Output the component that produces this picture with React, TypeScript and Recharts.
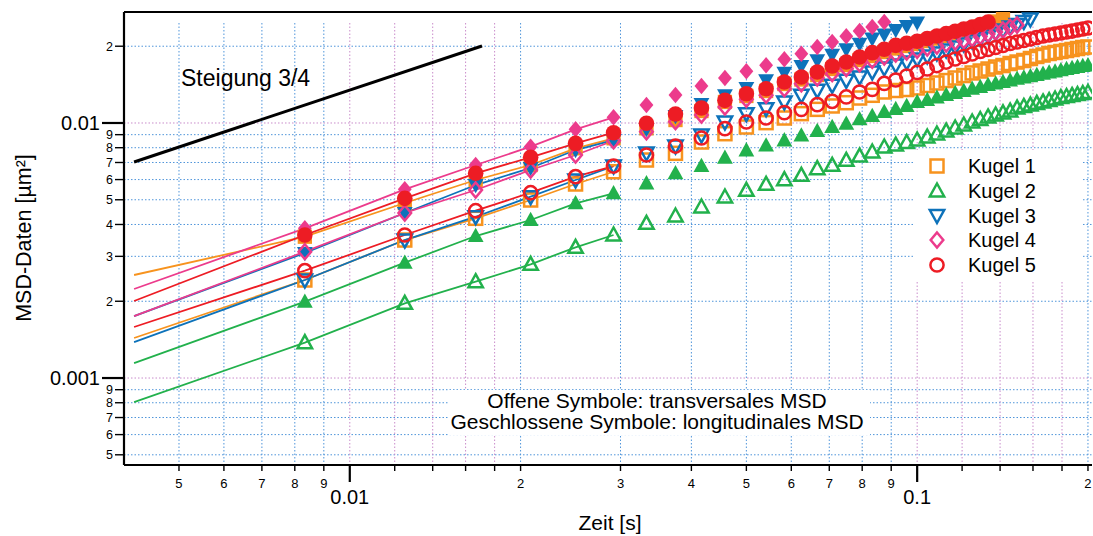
import {
  CartesianGrid,
  ComposedChart,
  ReferenceLine,
  Scatter,
  XAxis,
  YAxis,
} from 'recharts';

// Zeitpunkte (s), Bildabstand 1/240 s
const frameTimes = [
  0.004167, 0.008333, 0.0125, 0.016667, 0.020833, 0.025, 0.029167, 0.033333,
  0.0375, 0.041667, 0.045833, 0.05, 0.054167, 0.058333, 0.0625, 0.066667,
  0.070833, 0.075, 0.079167, 0.083333, 0.0875, 0.091667, 0.095833, 0.1,
  0.104167, 0.108333, 0.1125, 0.116667, 0.120833, 0.125, 0.129167, 0.133333,
  0.1375, 0.141667, 0.145833, 0.15, 0.154167, 0.158333, 0.1625, 0.166667,
  0.170833, 0.175, 0.179167, 0.183333, 0.1875, 0.191667, 0.195833, 0.2,
];

// MSD values in 1e-3 µm²; "Long" = geschlossen (longitudinal), "Trans" = offen
const kugel1Long = [
  2.535, 3.582, 4.856, 5.977, 6.843, 7.958, 8.71, 9.53, 10.27, 11.14, 12.09,
  12.76, 13.35, 14.22, 14.81, 15.42, 16.28, 16.88, 17.66, 18.31, 18.98, 19.59,
  20.04, 20.41, 20.96, 21.44, 21.93, 22.43, 22.94, 23.36, 23.9, 24.44, 25.0,
  25.57,
];
const kugel1Trans = [
  1.435, 2.423, 3.476, 4.229, 4.989, 5.765, 6.44, 7.159, 7.604, 8.422, 9.078,
  9.645, 10.03, 10.46, 10.88, 11.31, 11.66, 12.01, 12.53, 12.84, 13.23, 13.41,
  13.53, 13.72, 14.03, 14.35, 14.67, 15.01, 15.35, 15.71, 15.99, 16.28, 16.58,
  16.8, 17.11, 17.34, 17.58, 17.9, 18.23, 18.47, 18.73, 18.9, 19.07, 19.24,
  19.42, 19.59, 19.77, 19.86,
];
const kugel2Long = [
  1.145, 1.992, 2.833, 3.604, 4.165, 4.842, 5.3, 5.8, 6.35, 6.78, 7.31, 7.81,
  8.17, 8.55, 8.94, 9.3, 9.645, 9.94, 10.34, 10.65, 11.04, 11.35, 11.66, 12.09,
  12.31, 12.59, 12.87, 13.11, 13.35, 13.63, 13.84, 14.09, 14.29, 14.48, 14.67,
  14.92, 15.08, 15.25, 15.42, 15.61, 15.78, 15.92, 16.09, 16.28, 16.43, 16.58,
  16.73, 16.83,
];
const kugel2Trans = [
  0.805, 1.376, 1.963, 2.386, 2.792, 3.255, 3.637, 4.042, 4.318, 4.684, 5.126,
  5.443, 5.748, 5.993, 6.234, 6.619, 6.822, 7.137, 7.421, 7.696, 8.05, 8.197,
  8.385, 8.576, 8.81, 9.054, 9.3, 9.559, 9.82, 10.09, 10.32, 10.56, 10.75,
  10.95, 11.14, 11.45, 11.61, 11.76, 11.93, 12.09, 12.25, 12.42, 12.59, 12.7,
  12.82, 12.93, 13.05, 13.17,
];
const kugel3Long = [
  1.75, 3.092, 4.437, 5.712, 6.661, 7.835, 8.576, 9.473, 10.65, 11.87, 12.84,
  13.72, 14.7, 15.75, 16.73, 17.61, 18.53, 19.45, 20.46, 21.41, 22.23, 23.15,
  24.0, 24.78,
];
const kugel3Trans = [
  1.384, 2.423, 3.476, 4.29, 5.14, 5.977, 6.78, 7.627, 8.122, 8.97, 10.09,
  10.88, 11.38, 12.09, 12.84, 13.43, 14.05, 14.7, 15.15, 15.85, 16.43, 16.88,
  17.34, 17.82, 18.31, 18.81, 19.33, 19.86, 20.41, 20.96, 21.44, 21.93, 22.54,
  23.15, 23.79, 24.33, 25.0, 25.57,
];
const kugel4Long = [
  2.234, 3.864, 5.494, 6.843, 8.073, 9.445, 10.53, 11.76, 12.87, 13.96, 15.01,
  15.95, 16.83, 17.77, 18.69, 19.86, 20.78, 21.88, 22.94, 23.79, 24.89,
];
const kugel4Trans = [
  1.75, 3.129, 4.437, 5.46, 6.541, 7.49, 8.52, 9.245, 10.12, 10.75, 11.55,
  12.38, 12.84, 13.63, 14.26, 15.01, 15.61, 16.33, 17.08, 17.61, 18.15, 18.64,
  18.98, 19.27, 19.68, 20.04, 20.41, 20.78, 21.06, 21.41, 21.84, 22.33, 22.74,
  23.15, 23.68, 24.22,
];
const kugel5Long = [
  2.004, 3.637, 5.065, 6.35, 7.336, 8.32, 9.16, 9.97, 10.85, 11.45, 12.27,
  13.03, 13.63, 14.48, 15.15, 15.85, 16.73, 17.34, 18.15, 18.87, 19.45, 20.16,
  20.53, 20.91, 21.44, 21.93, 22.43, 22.89, 23.36, 23.79, 24.33, 24.89,
];
const kugel5Trans = [
  1.585, 2.636, 3.637, 4.53, 5.33, 6.159, 6.78, 7.49, 8.122, 8.733, 9.5, 10.09,
  10.46, 10.98, 11.31, 11.8, 12.16, 12.65, 13.23, 13.55, 14.29, 14.74, 15.28,
  15.78, 16.28, 16.8, 17.34, 17.82, 18.23, 18.64, 19.07, 19.42, 19.77, 20.13,
  20.5, 20.78, 21.06, 21.35, 21.64, 21.93, 22.13, 22.33, 22.54, 22.74, 22.94,
  23.15, 23.36, 23.58,
];

// Steigung-3/4-Gerade
const slopeTimes = [0.004167, 0.0171];
const slopeValues = [7.03, 20.04];

const xTickValues = [
  0.005, 0.006, 0.007, 0.008, 0.009, 0.01, 0.012, 0.014, 0.016, 0.018, 0.02,
  0.03, 0.04, 0.05, 0.06, 0.07, 0.08, 0.09, 0.1, 0.12, 0.14, 0.16, 0.18, 0.2,
];
const xTickLabels = [
  '5', '6', '7', '8', '9', '0.01', '', '', '', '', '2', '3', '4', '5', '6',
  '7', '8', '9', '0.1', '', '', '', '', '2',
];
const yTickValues = [
  0.0005, 0.0006, 0.0007, 0.0008, 0.0009, 0.001, 0.002, 0.003, 0.004, 0.005,
  0.006, 0.007, 0.008, 0.009, 0.01, 0.02,
];
const yTickLabels = [
  '5', '6', '7', '8', '9', '0.001', '2', '3', '4', '5', '6', '7', '8', '9',
  '0.01', '2',
];
const majorTicks = [0.001, 0.01, 0.1];

const gridBlueX = [
  0.005, 0.006, 0.007, 0.008, 0.009, 0.02, 0.03, 0.04, 0.05, 0.06, 0.07, 0.08,
  0.09, 0.2,
];
const gridPinkX = [0.01, 0.012, 0.014, 0.016, 0.018, 0.1, 0.12, 0.14, 0.16, 0.18];
const gridBlueY = [
  0.0005, 0.0006, 0.0007, 0.0008, 0.0009, 0.002, 0.003, 0.004, 0.005, 0.006,
  0.007, 0.008, 0.009, 0.02,
];
const gridPinkY = [0.001, 0.01];

const xDomain = [0.004, 0.2033];
const yDomain = [0.000456, 0.02724];

const FONT = '"Liberation Sans", Arial, Helvetica, sans-serif';
const ORANGE = '#f7931e';
const GREEN = '#22b14c';
const BLUE = '#0d72ba';
const PINK = '#ec3b8c';
const RED = '#ed1c24';

type ShapeKind = 'square' | 'up' | 'down' | 'diamond' | 'circle';

const series = [
  { name: 'Kugel 1', long: kugel1Long, trans: kugel1Trans, color: ORANGE, kind: 'square' as ShapeKind },
  { name: 'Kugel 2', long: kugel2Long, trans: kugel2Trans, color: GREEN, kind: 'up' as ShapeKind },
  { name: 'Kugel 3', long: kugel3Long, trans: kugel3Trans, color: BLUE, kind: 'down' as ShapeKind },
  { name: 'Kugel 4', long: kugel4Long, trans: kugel4Trans, color: PINK, kind: 'diamond' as ShapeKind },
  { name: 'Kugel 5', long: kugel5Long, trans: kugel5Trans, color: RED, kind: 'circle' as ShapeKind },
];

const toPoints = (vals: number[]) =>
  vals.map((v, i) => ({ t: frameTimes[i], v: v / 1000 }));

const Marker = ({ cx, cy, kind, color, filled }: {
  cx: number; cy: number; kind: ShapeKind; color: string; filled: boolean;
}) => {
  const fill = filled ? color : 'none';
  const sw = filled ? 0 : 2.5;
  const g = filled ? 1.1 : 1;
  if (kind === 'square') {
    const h = 6.5 * g;
    return <rect x={cx - h} y={cy - h} width={2 * h} height={2 * h} fill={fill} stroke={color} strokeWidth={sw} />;
  }
  if (kind === 'circle') {
    return <circle cx={cx} cy={cy} r={filled ? 7.8 : 6.6} fill={fill} stroke={color} strokeWidth={sw} />;
  }
  if (kind === 'up') {
    const pts = `${cx},${cy - 7.5 * g} ${cx + 7.2 * g},${cy + 5.5 * g} ${cx - 7.2 * g},${cy + 5.5 * g}`;
    return <polygon points={pts} fill={fill} stroke={color} strokeWidth={sw} />;
  }
  if (kind === 'down') {
    const pts = `${cx},${cy + 7.5 * g} ${cx + 7.2 * g},${cy - 5.5 * g} ${cx - 7.2 * g},${cy - 5.5 * g}`;
    return <polygon points={pts} fill={fill} stroke={color} strokeWidth={sw} />;
  }
  const pts = `${cx},${cy - 7.5 * g} ${cx + 6.3 * g},${cy} ${cx},${cy + 7.5 * g} ${cx - 6.3 * g},${cy}`;
  return <polygon points={pts} fill={fill} stroke={color} strokeWidth={sw} />;
};

const XTick = ({ x, y, payload }: any) => {
  const i = xTickValues.indexOf(payload.value);
  const label = xTickLabels[i];
  const major = majorTicks.includes(payload.value);
  return (
    <g>
      <line x1={x} x2={x} y1={y} y2={y + (major ? 17 : 6)} stroke="#000" strokeWidth={major ? 2.2 : 1.4} />
      {label ? (
        <text x={x} y={y + (major ? 39 : 23)} textAnchor="middle" fontSize={major ? 20 : 13} fontFamily={FONT} fill="#000">
          {label}
        </text>
      ) : null}
    </g>
  );
};

const YTick = ({ x, y, payload }: any) => {
  const i = yTickValues.indexOf(payload.value);
  const label = yTickLabels[i];
  const major = majorTicks.includes(payload.value);
  return (
    <g>
      <line x1={x} x2={x - (major ? 22 : 9)} y1={y} y2={y} stroke="#000" strokeWidth={major ? 2.2 : 1.4} />
      <text x={x - (major ? 24 : 11)} y={y + (major ? 7 : 4.3)} textAnchor="end" fontSize={major ? 20 : 12.5} fontFamily={FONT} fill="#000">
        {label}
      </text>
    </g>
  );
};

const legendRows = [166, 191, 215.5, 240, 265];

// grid area: vertical lines stop a little below the top frame, as in the original
const gridTop = 23;
const gridHeight = 442;

const App = () => (
  <div style={{ position: 'absolute', left: 0, top: 0, width: 1093, height: 536, background: '#fff' }}>
    <ComposedChart width={1093} height={536} margin={{ top: 12, right: 1, left: 64, bottom: 31 }}>
      <CartesianGrid
        horizontalValues={gridBlueY}
        verticalValues={gridBlueX}
        y={gridTop}
        height={gridHeight}
        stroke="#4f95da"
        strokeDasharray="1.5 2"
        strokeWidth={1}
      />
      <CartesianGrid
        horizontalValues={gridPinkY}
        verticalValues={gridPinkX}
        y={gridTop}
        height={gridHeight}
        stroke="#c98ccb"
        strokeDasharray="1.5 2"
        strokeWidth={1}
      />
      <XAxis
        dataKey="t"
        type="number"
        scale="log"
        domain={xDomain}
        allowDataOverflow
        ticks={xTickValues}
        interval={0}
        tickSize={0}
        tickMargin={0}
        tick={<XTick />}
        tickLine={false}
        axisLine={{ stroke: '#000', strokeWidth: 2.2 }}
        height={40}
      />
      <YAxis
        dataKey="v"
        type="number"
        scale="log"
        domain={yDomain}
        allowDataOverflow
        ticks={yTickValues}
        interval={0}
        tickSize={0}
        tickMargin={0}
        tick={<YTick />}
        tickLine={false}
        axisLine={{ stroke: '#000', strokeWidth: 2.2 }}
        width={60}
      />
      <ReferenceLine y={yDomain[1]} stroke="#000" strokeWidth={2.2} ifOverflow="visible" />

      <Scatter
        data={slopeTimes.map((t, i) => ({ t, v: slopeValues[i] / 1000 }))}
        line={{ stroke: '#000', strokeWidth: 3 }}
        shape={() => null}
        isAnimationActive={false}
        legendType="none"
      />
      {series.flatMap((s) => [
        <Scatter
          key={`${s.name}-ll`}
          data={toPoints(s.long).slice(0, 7)}
          line={{ stroke: s.color, strokeWidth: 1.8 }}
          shape={() => null}
          isAnimationActive={false}
        />,
        <Scatter
          key={`${s.name}-tl`}
          data={toPoints(s.trans).slice(0, 7)}
          line={{ stroke: s.color, strokeWidth: 1.8 }}
          shape={() => null}
          isAnimationActive={false}
        />,
      ])}
      {series.flatMap((s) => [
        <Scatter
          key={`${s.name}-l`}
          data={toPoints(s.long).slice(1)}
          shape={(p: any) => <Marker cx={p.cx} cy={p.cy} kind={s.kind} color={s.color} filled />}
          isAnimationActive={false}
        />,
        <Scatter
          key={`${s.name}-t`}
          data={toPoints(s.trans).slice(1)}
          shape={(p: any) => <Marker cx={p.cx} cy={p.cy} kind={s.kind} color={s.color} filled={false} />}
          isAnimationActive={false}
        />,
      ])}
    </ComposedChart>

    <svg width={1093} height={536} style={{ position: 'absolute', left: 0, top: 0, pointerEvents: 'none' }} fontFamily={FONT}>
      <text x={181} y={86} fontSize={23} fill="#000">Steigung 3/4</text>

      <rect x={448} y={390} width={422} height={45} fill="#fff" />
      <text x={657} y={408} fontSize={21} textAnchor="middle" fill="#000">Offene Symbole: transversales MSD</text>
      <text x={657} y={429} fontSize={21} textAnchor="middle" fill="#000">Geschlossene Symbole: longitudinales MSD</text>

      <rect x={913} y={150} width={170} height={130} fill="#fff" />
      {series.map((s, i) => (
        <g key={s.name}>
          <Marker cx={937} cy={legendRows[i]} kind={s.kind} color={s.color} filled={false} />
          <text x={968} y={legendRows[i] + 7} fontSize={20} fill="#000">{s.name}</text>
        </g>
      ))}

      <text x={31} y={238} fontSize={21.5} textAnchor="middle" transform="rotate(-90 31 238)" fill="#000">
        MSD-Daten [µm²]
      </text>
      <text x={610} y={530} fontSize={21} textAnchor="middle" fill="#000">Zeit [s]</text>
    </svg>
  </div>
);

export default App;
